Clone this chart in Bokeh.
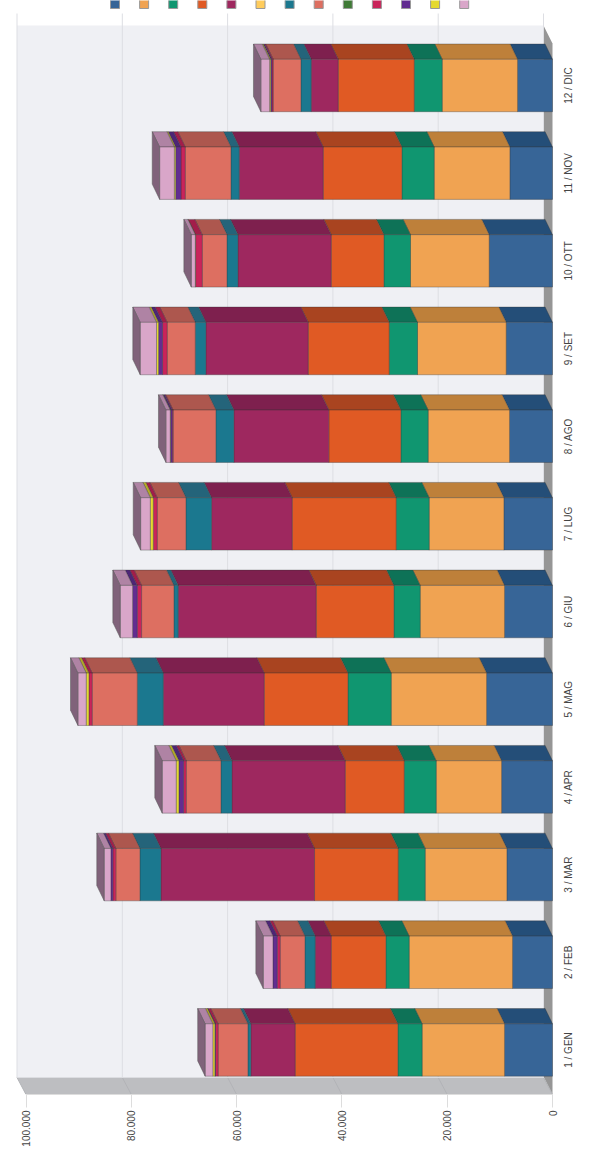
import math
from bokeh.plotting import figure
from bokeh.models import FixedTicker, Range1d
from bokeh.core.properties import value
from bokeh.embed import file_html
from bokeh.resources import INLINE

months = ["1 / GEN", "2 / FEB", "3 / MAR", "4 / APR", "5 / MAG", "6 / GIU",
          "7 / LUG", "8 / AGO", "9 / SET", "10 / OTT", "11 / NOV", "12 / DIC"]
value_ticks = [0, 20000, 40000, 60000, 80000, 100000]
value_labels = ["0", "20.000", "40.000", "60.000", "80.000", "100.000"]

s_blue = [9120, 7600, 8670, 9680, 12530, 9120, 9240, 8170, 8800, 12030, 8100, 6650]
s_orange = [15640, 19620, 15510, 12410, 18100, 16010, 14180, 15450, 16840, 14940, 14370, 14300]
s_green = [4620, 4430, 5130, 6080, 8230, 5000, 6270, 5190, 5380, 5060, 6140, 5320]
s_redorange = [19500, 10380, 15890, 11200, 15890, 14750, 19750, 13670, 15380, 10000, 14940, 14430]
s_magenta = [8420, 3040, 29180, 21520, 19180, 26210, 15320, 18040, 19430, 17720, 15950, 5130]
s_amber = [0, 0, 0, 0, 0, 0, 0, 0, 0, 0, 0, 0]
s_teal = [570, 1960, 3990, 2090, 4940, 820, 4870, 3420, 2030, 2090, 1580, 1960]
s_salmon = [5630, 4680, 4560, 6580, 8550, 6140, 5440, 8100, 5320, 4680, 8670, 5250]
s_darkgreen = [0, 0, 0, 0, 0, 0, 0, 0, 0, 0, 0, 0]
s_crimson = [510, 570, 570, 510, 630, 820, 760, 190, 890, 1270, 820, 250]
s_purple = [130, 820, 380, 890, 0, 890, 0, 320, 760, 0, 1010, 250]
s_yellow = [380, 0, 0, 510, 510, 0, 560, 60, 380, 60, 250, 200]
s_pink = [1460, 1840, 1270, 2660, 1580, 2340, 1840, 820, 3100, 760, 2790, 1650]

series = [s_blue, s_orange, s_green, s_redorange, s_magenta, s_amber, s_teal,
          s_salmon, s_darkgreen, s_crimson, s_purple, s_yellow, s_pink]
front_colors = ["#376597", "#F0A352", "#109670", "#E05A24", "#9E285F", "#FFCC5C", "#1B788F",
                "#DD6F61", "#3F7A36", "#C9245A", "#622D90", "#E5D92F", "#D9A6C9"]
top_colors = ["#244E78", "#BE803A", "#0E7257", "#A94420", "#7E204E", "#C9A048", "#24647A",
              "#AD574E", "#30602A", "#A21E4A", "#4D2576", "#B5AB25", "#AF83A4"]
end_color = "#80627A"

PX_PER_VALUE = 0.005265
PX_PER_CAT = 87.68


def vx(px):
    return (552 - px) / PX_PER_VALUE


def cy(py):
    return 1 + (1049.5 - py) / PX_PER_CAT


p = figure(frame_width=585, frame_height=1094, output_backend="svg", toolbar_location=None,
           x_range=Range1d(vx(0), vx(585)), y_range=Range1d(cy(1094), cy(0)),
           y_axis_location=None, min_border_left=0, min_border_top=0,
           min_border_right=0, min_border_bottom=64, margin=(0, 0, 0, 0))
p.outline_line_color = None
p.grid.visible = False
p.background_fill_color = "white"

# walls and floor
p.quad(left=vx(16.5), right=vx(543.5), top=cy(25), bottom=cy(1077), fill_color="#EFF0F4", line_color=None)
p.patch([vx(16.5), vx(25.5), vx(552), vx(543.5)], [cy(1077), cy(1094), cy(1094), cy(1077)],
        fill_color="#BDBEC1", line_color=None)
p.patch([vx(543.5), vx(552), vx(552), vx(543.5)], [cy(26), cy(43), cy(1094), cy(1077)],
        fill_color="#969696", line_color=None)

wall_dx = 9 / PX_PER_VALUE
tick_back = [t + wall_dx for t in value_ticks]
p.segment(x0=tick_back, x1=tick_back, y0=[cy(13)] * 6, y1=[cy(1077)] * 6, line_color="#DDDEE3", line_width=1)
p.segment(x0=tick_back, x1=value_ticks, y0=[cy(1077)] * 6, y1=[cy(1094)] * 6, line_color="#B2B3B7", line_width=1)
p.segment(x0=[vx(16.5)], x1=[vx(543.5)], y0=[cy(1077)], y1=[cy(1077)], line_color="#DCDDE1", line_width=1)

# 3D stacked bars
half = 26.2 / PX_PER_CAT
dx = 7.4 / PX_PER_VALUE
dy = 15.3 / PX_PER_CAT
for m in range(len(months)):
    c = m + 1
    base = 0
    for values, fc, tc in zip(series, front_colors, top_colors):
        v = values[m]
        if v <= 0:
            continue
        top = base + v
        p.patch([base + dx, top + dx, top, base],
                [c + half + dy, c + half + dy, c + half, c + half],
                fill_color=tc, line_color="#333333", line_alpha=0.35, line_width=1)
        p.quad(left=top, right=base, top=c + half, bottom=c - half,
               fill_color=fc, line_color="#333333", line_alpha=0.35, line_width=1)
        base = top
    p.patch([base + dx, base, base, base + dx],
            [c + half + dy, c + half, c - half, c - half + dy],
            fill_color=end_color, line_color="#555555", line_alpha=0.5, line_width=1)

# legend swatches
for i, fc in enumerate(front_colors):
    left = 110 + 29.1 * i
    p.quad(left=vx(left), right=vx(left + 9), top=cy(-1), bottom=cy(8),
           fill_color=fc, line_color="#999999", line_width=1)

xa = p.xaxis[0]
xa.ticker = FixedTicker(ticks=value_ticks)
xa.major_label_overrides = dict(zip(value_ticks, value_labels))
xa.major_label_orientation = math.pi / 2
xa.major_label_text_font = "Liberation Sans"
xa.major_label_text_font_size = "10px"
xa.major_label_text_color = "#444444"
xa.major_label_standoff = 3
xa.major_tick_out = 13
xa.major_tick_in = 0
xa.minor_tick_line_color = None
xa.major_tick_line_color = "#DDDDDD"
xa.axis_line_color = "#DDDDDD"
xa.bounds = (0, 100000)

p.text(x=[vx(568)] * 12, y=list(range(1, 13)), text=months, angle=math.pi / 2,
       text_align="center", text_baseline="middle",
       text_font=value("Liberation Sans"), text_font_size="10px", text_color="#444444")

open("out.html", "w").write(file_html(p, INLINE))
